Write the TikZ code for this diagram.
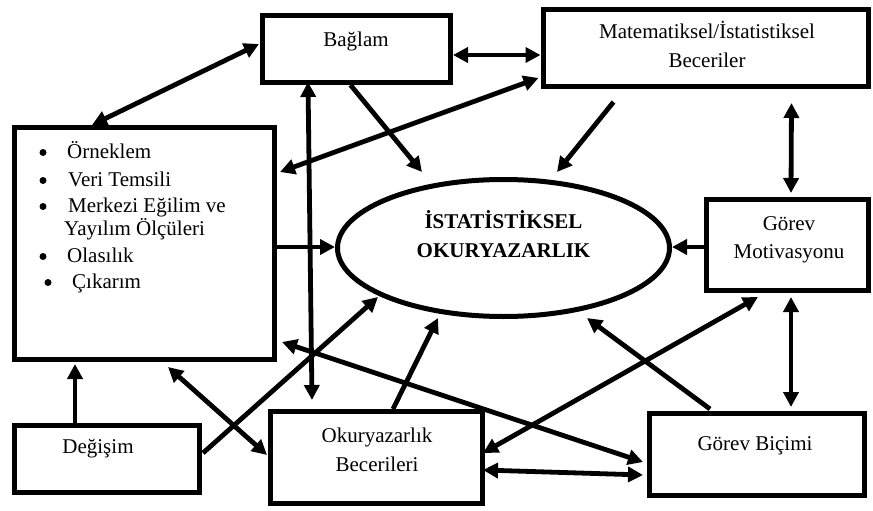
\documentclass[tikz,border=0pt]{standalone}
\usepackage{fontspec}
\setmainfont{Liberation Serif}
\usetikzlibrary{arrows.meta,shapes.geometric,calc}
\begin{document}
\begin{tikzpicture}[x=1pt,y=-1pt,
  box/.style={draw,line width=5pt,rectangle,inner sep=0pt},
  lbl/.style={inner sep=0pt,anchor=base,font=\fontsize{21}{25}\selectfont},
  blbl/.style={inner sep=0pt,anchor=base,font=\fontsize{21}{25}\selectfont\bfseries},
  itm/.style={inner sep=0pt,anchor=base west,font=\fontsize{21}{25}\selectfont},
  dot/.style={circle,fill,inner sep=0pt,minimum size=7pt},
  conn/.style={line width=4.8pt,-{Triangle[length=15pt,width=15pt]}},
  biconn/.style={line width=4.8pt,{Triangle[length=15pt,width=15pt]}-{Triangle[length=15pt,width=15pt]}}]
\useasboundingbox (0,0) rectangle (873,511);
% boxes
\node[box,minimum width=188pt,minimum height=67pt] (bag) at (356.5,49) {};
\node[box,minimum width=325pt,minimum height=77pt] (mat) at (705.5,48) {};
\node[box,minimum width=260pt,minimum height=232pt] (lb) at (144.5,243.5) {};
\node[box,minimum width=185pt,minimum height=67pt] (deg) at (107,459) {};
\node[box,minimum width=212pt,minimum height=92pt] (okb) at (376.5,457.5) {};
\node[box,minimum width=215pt,minimum height=82pt] (gb) at (757,454.5) {};
\node[box,minimum width=162pt,minimum height=91pt] (gm) at (787.5,245) {};
\node[draw,ellipse,line width=5pt,inner sep=0pt,minimum width=332pt,minimum height=137pt] (ell) at (503.5,248) {};
% texts
\node[lbl] (bagt) at (356,46.5) {Bağlam};
\node[lbl] (matt1) at (707,38.5) {Matematiksel/İstatistiksel};
\node[lbl] (matt2) at (707,67) {Beceriler};
\node[lbl] (gmt1) at (789,230) {Görev};
\node[lbl] (gmt2) at (789,258) {Motivasyonu};
\node[lbl] (okbt1) at (377,442) {Okuryazarlık};
\node[lbl] (okbt2) at (377,471) {Becerileri};
\node[lbl] (degt) at (98,453) {Değişim};
\node[lbl] (gbt) at (755,450) {Görev Biçimi};
\node[blbl] (ellt1) at (503.5,228) {İSTATİSTİKSEL};
\node[blbl] (ellt2) at (503.5,257) {OKURYAZARLIK};
% list
\node[dot] (b1) at (43,152.5) {};
\node[itm] (i1) at (67,158) {Örneklem};
\node[dot] (b2) at (43,180.5) {};
\node[itm] (i2) at (68,186) {Veri Temsili};
\node[dot] (b3) at (43,206.5) {};
\node[itm] (i3) at (68,212) {Merkezi Eğilim ve};
\node[itm] (i4) at (64,235) {Yayılım Ölçüleri};
\node[dot] (b5) at (43,256.5) {};
\node[itm] (i5) at (67,262) {Olasılık};
\node[dot] (b6) at (48,282.5) {};
\node[itm] (i6) at (72,288) {Çıkarım};
% connectors
\draw[biconn] ($(lb.north west)+(80,0)$) -- ($(bag.west)+(-1,-5)$);
\draw[biconn] ($(bag.east)+(0,6)$) -- ($(mat.west)+(0,7)$);
\draw[conn] ($(bag.south)+(-6,0)$) -- ($(ell.center)+(-81.5,-76)$);
\draw[conn] ($(mat.south west)+(73,13)$) -- ($(ell.center)+(53.5,-76)$);
\draw[biconn] ($(mat.south west)+(251,14)$) -- ($(gm.north west)+(87,-4)$);
\draw[biconn] ($(lb.north east)+(3,47)$) -- ($(mat.south west)+(-2,-11)$);
\draw[biconn] ($(bag.south west)+(48,-3)$) -- ($(okb.north west)+(44,-9)$);
\draw[conn] ($(lb.east)+(0,3.5)$) -- ($(ell.west)+(0,-1)$);
\draw[conn] ($(gm.west)+(0,2)$) -- ($(ell.east)+(0,-1)$);
\draw[biconn] ($(lb.south east)+(5,-20)$) -- ($(gb.west)+(-4,7.5)$);
\draw[conn] ($(deg.north west)+(63,0)$) -- ($(lb.south west)+(63,2)$);
\draw[biconn] ($(lb.south west)+(156,5)$) -- ($(okb.west)+(-1,-2.5)$);
\draw[conn] ($(deg.east)+(1,-6)$) -- ($(ell.center)+(-125.5,49)$);
\draw[conn] ($(okb.north west)+(125,0)$) -- ($(ell.center)+(-65.5,70)$);
\draw[conn] ($(gb.north west)+(63,-2)$) -- ($(ell.center)+(83.5,70)$);
\draw[biconn] ($(okb.east)+(-2,-4.5)$) -- ($(gm.south west)+(54,4)$);
\draw[biconn] ($(okb.east)+(-2,12.5)$) -- ($(gb.west)+(-4,20.5)$);
\draw[biconn] ($(gm.south west)+(87,4)$) -- ($(gb.north west)+(144,-4)$);
\end{tikzpicture}
\end{document}
